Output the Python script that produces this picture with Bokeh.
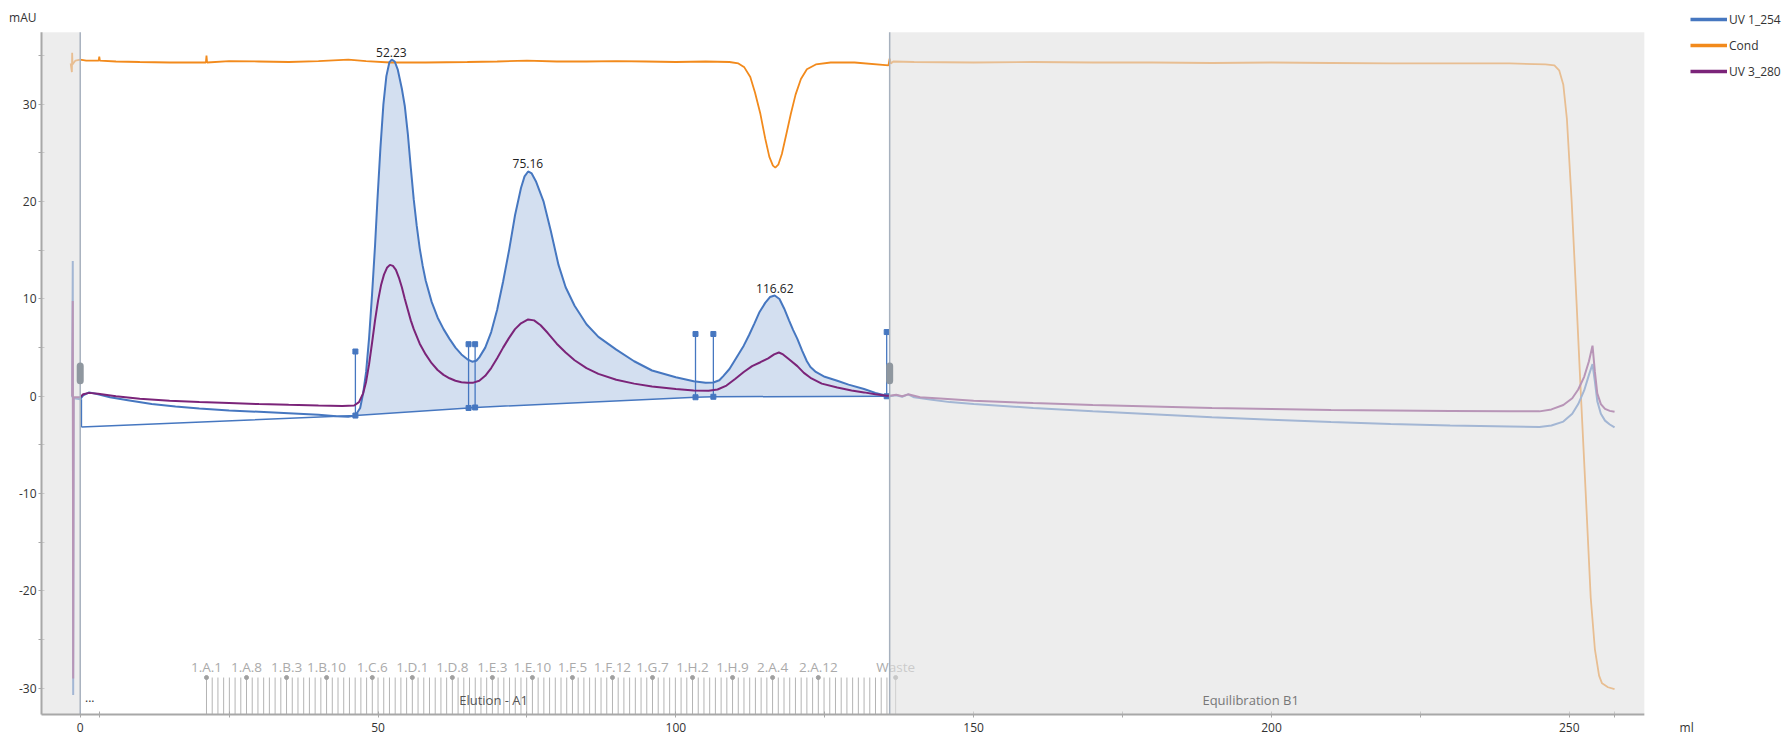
from bokeh.plotting import figure
from bokeh.models import (Range1d, FixedTicker, BoxAnnotation, Label,
                          Legend, LegendItem)
from bokeh.core.properties import value
from bokeh.embed import file_html
from bokeh.resources import INLINE

FONT = "Open Sans"

# ---------------- data (ml, mAU) ----------------
uv254_ml = [-1.35, -1.25, -1.18, -1.1, -0.5,
            0.0, 0.5, 1.5, 3, 5, 8, 12, 16, 20, 25, 30, 35, 40, 43, 45, 46.2,
            47, 47.5, 48, 48.5, 49, 49.5, 49.9, 50.4, 50.9, 51.4, 51.9, 52.3, 52.8, 53.3,
            54.0, 54.5, 55, 55.5, 56, 56.5, 57, 57.5, 58, 59, 60, 61, 62, 63, 64, 65,
            65.8, 66.5, 67, 68, 69, 70, 71, 72, 73, 74, 74.6, 75.2, 75.8, 76.5, 77.8,
            79, 80.3, 81.5, 83, 85, 87, 90, 93, 96, 100, 103, 105, 106.3, 107.3, 108,
            109, 109.7, 110.5, 111.4, 112.3, 113.2, 114, 115, 115.8, 116.6, 117.4,
            118.2, 119, 119.7, 120.4, 121.2, 122, 122.6, 123.5, 125, 127.1, 129,
            131.6, 133.5, 135.4,
            135.9, 137, 138, 139, 140, 143, 146, 150, 160, 170, 180, 190, 200, 210,
            220, 230, 240, 245, 247, 249, 250.5, 251.5, 252.5, 253.3, 253.9, 254.3,
            254.7, 255.3, 256, 256.8, 257.6]
uv254_mau = [-0.1, 13.9, -30.7, -0.2, -0.25,
             -0.3, 0.1, 0.4, 0.2, -0.1, -0.4, -0.8, -1.05, -1.25, -1.45, -1.6, -1.75,
             -1.9, -2.05, -2.1, -1.98,
             -1.2, 0.3, 2.5, 6.0, 10.5, 15.5, 20.2, 25.5, 30.0, 32.9, 34.3, 34.6, 34.4,
             33.6, 31.6, 29.8, 27.0, 23.5, 20.2, 17.5, 15.2, 13.4, 11.9, 9.7, 8.1, 6.9,
             5.9, 5.0, 4.3, 3.8, 3.55, 3.65, 4.0, 5.0, 6.6, 8.9, 11.8, 15.0, 18.6, 21.4,
             22.6, 23.1, 22.9, 22.1, 20.0, 17.0, 13.5, 11.2, 9.3, 7.4, 6.1, 4.8, 3.6,
             2.65, 1.95, 1.55, 1.38, 1.42, 1.65, 2.1, 2.8, 3.5, 4.3, 5.2, 6.3, 7.5, 8.6,
             9.6, 10.2, 10.35, 10.0, 9.0, 7.8, 6.8, 5.9, 4.7, 3.6, 3.0, 2.5, 2.0, 1.6,
             1.2, 0.75, 0.35, 0.05,
             0.0, 0.1, -0.05, 0.2, -0.1, -0.35, -0.6, -0.8, -1.2, -1.55, -1.85, -2.15,
             -2.4, -2.65, -2.85, -3.0, -3.1, -3.15, -3.0, -2.6, -1.8, -0.8, 0.6, 2.2,
             3.3, 1.5, -0.5, -1.8, -2.5, -2.9, -3.2]

uv280_ml = [-1.35, -1.25, -1.18, -1.1, -0.5,
            0.0, 0.5, 1.5, 3, 6, 10, 15, 20, 25, 30, 35, 40, 44, 46, 46.8, 47.5, 48,
            48.5, 49, 49.5, 50, 50.5, 51, 51.5, 52.0, 52.5, 53, 53.5, 54, 54.5, 55,
            55.5, 56, 57, 58, 59, 60, 61, 62, 63, 64, 65, 66, 67, 68, 69, 70, 71, 72,
            73, 74, 75.2, 76.2, 77.3, 78.5, 80, 81.5, 83, 85, 87, 90, 93, 96, 100, 103,
            105.5, 107, 108.5, 110, 111.4, 112.8, 114.2, 115.5, 116.5, 117.3, 118, 119,
            120.4, 121.5, 122.6, 124.5, 127.1, 129.5, 131.6, 133.5, 135.4,
            135.9, 137, 138, 139, 141, 145, 150, 160, 170, 180, 190, 200, 210, 220,
            230, 240, 245, 247, 249, 250.5, 251.5, 252.5, 253.3, 253.9, 254.3, 254.7,
            255.3, 256, 256.8, 257.6]
uv280_mau = [0.0, 9.8, -29.0, -0.1, -0.1,
             -0.1, 0.2, 0.35, 0.25, 0.0, -0.25, -0.45, -0.6, -0.7, -0.8, -0.88, -0.95,
             -1.0, -0.95, -0.6, 0.3, 1.5, 3.3, 5.5, 7.8, 9.8, 11.4, 12.5, 13.2, 13.5,
             13.4, 13.0, 12.2, 11.2, 10.0, 8.9, 7.8, 6.9, 5.4, 4.3, 3.4, 2.7, 2.2, 1.85,
             1.6, 1.45, 1.4, 1.4, 1.6, 2.1, 2.9, 3.9, 5.0, 6.0, 6.9, 7.5, 7.9, 7.8, 7.3,
             6.5, 5.4, 4.5, 3.7, 2.9, 2.3, 1.7, 1.3, 1.0, 0.75, 0.6, 0.57, 0.7, 1.1,
             1.8, 2.5, 3.1, 3.5, 3.9, 4.3, 4.5, 4.3, 3.8, 3.1, 2.4, 1.9, 1.3, 0.9, 0.6,
             0.4, 0.2, 0.05,
             0.05, 0.15, 0.0, 0.2, -0.1, -0.25, -0.45, -0.7, -0.9, -1.05, -1.2, -1.3,
             -1.4, -1.45, -1.5, -1.55, -1.55, -1.35, -0.9, -0.2, 0.7, 2.0, 3.6, 5.2,
             2.5, 0.3, -0.8, -1.3, -1.5, -1.6]

cond_ml = [-1.6, -1.4, -1.35, -1.3, -0.8,
           0, 1, 3.1, 3.2, 3.3, 6, 10, 15, 21.1, 21.2, 21.3, 25, 30, 35, 40, 45, 48,
           52, 58, 65, 70, 75, 80, 85, 90, 95, 100, 105, 109, 110.5, 111.5, 112.5,
           113.3, 114.2, 115, 115.7, 116.3, 116.7, 117.2, 117.8, 118.5, 119.3, 120.1,
           121, 122, 123.5, 126, 130, 135.7, 135.9, 136.1,
           136.5, 140, 150, 160, 170, 180, 190, 200, 210, 220, 230, 240, 246, 247.5,
           248.3, 249, 249.6, 250.4, 251.2, 252, 252.8, 253.6, 254.3, 255, 255.5,
           256.5, 257.6]
cond_mau = [34.2, 33.3, 35.3, 34.1, 34.5,
            34.6, 34.5, 34.5, 34.9, 34.5, 34.4, 34.35, 34.3, 34.3, 35.0, 34.3, 34.45,
            34.4, 34.35, 34.45, 34.6, 34.45, 34.3, 34.3, 34.35, 34.4, 34.5, 34.4, 34.4,
            34.45, 34.4, 34.35, 34.4, 34.35, 34.2, 33.8, 32.8, 31.2, 29.0, 26.5, 24.6,
            23.7, 23.5, 23.8, 24.9, 26.8, 29.0, 31.0, 32.6, 33.6, 34.1, 34.3, 34.3,
            34.0, 34.7, 34.2,
            34.4, 34.35, 34.3, 34.35, 34.3, 34.3, 34.25, 34.3, 34.25, 34.2, 34.2, 34.2,
            34.1, 34.0, 33.5, 32.0, 28.5, 20.0, 9.9, -0.5, -10.5, -20.7, -26.0, -28.7,
            -29.5, -29.9, -30.1]

# integration baseline points (peak boundaries)
base_ml = [0.2, 46.2, 65.2, 66.3, 103.3, 106.3, 135.4]
base_mau = [-3.15, -1.98, -1.2, -1.15, -0.1, -0.05, 0.0]
# peak drop-line markers
mark_ml = [46.2, 65.2, 66.3, 103.3, 106.3, 135.4]
mark_top = [4.6, 5.35, 5.35, 6.4, 6.4, 6.6]
mark_bot = [-1.98, -1.2, -1.15, -0.1, -0.05, 0.0]
# peaks
peak_ml = [52.23, 75.16, 116.62]
peak_mau = [34.6, 23.1, 10.35]

# fractions
frac_start = 21.2
frac_volume = 0.96
frac_count = 120
frac_labels = ["1.A.1", "1.A.8", "1.B.3", "1.B.10", "1.C.6", "1.D.1", "1.D.8",
               "1.E.3", "1.E.10", "1.F.5", "1.F.12", "1.G.7", "1.H.2", "1.H.9",
               "2.A.4", "2.A.12"]
waste_ml = 136.9
phase_boundaries = [0.0, 135.9]

# axes: labelled ticks, tick marks, unit labels
x_label_ticks = [0, 50, 100, 150, 200, 250]
x_mark_ticks = [0, 3.2, 25, 50, 75, 100, 125, 150, 175, 200, 225, 250, 257.6]
x_unit_pos, x_unit = 269.7, "ml"
y_label_ticks = [-30, -20, -10, 0, 10, 20, 30]
y_mark_ticks = [-30, -25, -20, -15, -10, -5, 0, 5, 10, 15, 20, 25, 30, 35]
y_unit_pos, y_unit = 38.9, "mAU"

BLUE = "#4677c0"
ORANGE = "#f28a1c"
PURPLE = "#7b2479"
AXIS = "#a8a8a8"

# data window of the chart area and the (larger) drawing frame
X0, XE = -6.5, 262.6
Y0, YE = -32.7, 37.4
XF, YF = 286.3, 40.67

p = figure(width=1785, height=738, x_range=Range1d(X0, XF), y_range=Range1d(Y0, YF),
           output_backend="svg", toolbar_location=None,
           min_border_left=41, min_border_right=0, min_border_top=0,
           min_border_bottom=21)
p.outline_line_color = None
p.xgrid.visible = False
p.ygrid.visible = False

for ax in (p.xaxis, p.yaxis):
    ax.axis_line_color = None
    ax.major_tick_line_color = None
    ax.major_tick_in = 3
    ax.major_tick_out = 3
    ax.minor_tick_line_color = AXIS
    ax.minor_tick_in = 3
    ax.minor_tick_out = 3
    ax.major_label_text_font = FONT
    ax.major_label_text_font_size = "12px"
    ax.major_label_text_color = "#333333"
p.xaxis.major_label_standoff = 1
p.yaxis.major_label_standoff = 2

p.xaxis.ticker = FixedTicker(ticks=x_label_ticks + [x_unit_pos], minor_ticks=x_mark_ticks)
xo = {t: str(t) for t in x_label_ticks}
xo[x_unit_pos] = x_unit
p.xaxis.major_label_overrides = xo
p.yaxis.ticker = FixedTicker(ticks=y_label_ticks + [y_unit_pos], minor_ticks=y_mark_ticks)
yo = {t: str(t) for t in y_label_ticks}
yo[y_unit_pos] = y_unit
p.yaxis.major_label_overrides = yo

# filled peak area between curve and baseline
fill_x = [m for m in uv254_ml if base_ml[1] <= m <= base_ml[-1]]
fill_y = [v for m, v in zip(uv254_ml, uv254_mau) if base_ml[1] <= m <= base_ml[-1]]
fill_x += list(reversed(base_ml[1:]))
fill_y += list(reversed(base_mau[1:]))
p.patch(fill_x, fill_y, fill_color="#c8d7ec", fill_alpha=0.8, line_color=None)

# baseline + drop lines
p.line(base_ml, base_mau, line_color=BLUE, line_width=1.5)
p.segment(x0=[base_ml[0]], y0=[uv254_mau[5]], x1=[base_ml[0]], y1=[base_mau[0]],
          line_color=BLUE, line_width=1.5)
p.segment(x0=mark_ml, y0=mark_bot, x1=mark_ml, y1=mark_top, line_color=BLUE, line_width=1.3)
p.scatter(mark_ml, mark_top, marker="square", size=5, color=BLUE)
p.scatter(mark_ml, mark_bot, marker="square", size=5, color=BLUE)

# curves
p.line(cond_ml, cond_mau, line_color=ORANGE, line_width=1.8)
p.line(uv254_ml, uv254_mau, line_color=BLUE, line_width=2)
p.line(uv280_ml, uv280_mau, line_color=PURPLE, line_width=2)

# peak labels
p.text(x=peak_ml, y=peak_mau, text=[f"{m:.2f}" for m in peak_ml], text_align="center",
       text_baseline="bottom", y_offset=-3, text_font=value(FONT),
       text_font_size="12px", text_color="#222222")

# fractions
frac_x = [frac_start + i * frac_volume for i in range(frac_count)]
rows = "ABCDEFGH"

def frac_index(name):
    pl, r, c = name.split(".")
    return (int(pl) - 1) * 96 + rows.index(r) * 12 + int(c) - 1

lab_x = [frac_start + frac_index(n) * frac_volume for n in frac_labels] + [waste_ml]
lab_t = frac_labels + ["Waste"]
tick_top = -28.9
p.segment(x0=frac_x + [waste_ml], y0=[Y0] * (frac_count + 1), x1=frac_x + [waste_ml],
          y1=[tick_top] * (frac_count + 1), line_color="#b4b4b4", line_width=1)
p.scatter(lab_x, [tick_top] * len(lab_x), marker="circle", size=4, color="#a0a0a0")
p.text(x=lab_x, y=[tick_top] * len(lab_x), text=lab_t, text_align="center",
       text_baseline="middle", y_offset=-11, text_font=value(FONT),
       text_font_size="13.5px", text_color="#aaaaaa")

# shaded (inactive) regions drawn as overlays
p.add_layout(BoxAnnotation(right=phase_boundaries[0], top=YE, fill_color="#e1e1e1",
                           fill_alpha=0.6, line_color=None))
p.add_layout(BoxAnnotation(left=phase_boundaries[1], right=XE, top=YE,
                           fill_color="#e1e1e1", fill_alpha=0.6, line_color=None))

bnd = p.segment(x0=phase_boundaries, y0=[Y0, Y0], x1=phase_boundaries, y1=[YE, YE],
                line_color="#a7b1be", line_width=1.5)
bnd.level = "overlay"
cap = p.segment(x0=phase_boundaries, y0=[1.6, 1.6], x1=phase_boundaries, y1=[3.1, 3.1],
                line_color="#8f979f", line_width=7, line_cap="round")
cap.level = "overlay"

# axis lines (limited to the chart window)
axl = p.segment(x0=[X0, X0], y0=[Y0, Y0], x1=[XE, X0], y1=[Y0, YE],
                line_color=AXIS, line_width=2)
axl.level = "overlay"

def lab(x, y, t, color="#333333", align="center", size="12px"):
    p.add_layout(Label(x=x, y=y, text=t, text_align=align, text_baseline="middle",
                       text_font=FONT, text_font_size=size, text_color=color))

lab(69.4, -31.2, "Elution - A1", "#555555", size="13px")
lab(196.5, -31.2, "Equilibration B1", "#777777", size="13px")
lab(1.6, -31.0, "...", "#333333")

# legend (hidden thick copies of the curves act as legend glyphs)
r1 = p.line(uv254_ml, uv254_mau, line_color=BLUE, line_width=3.5, visible=False)
r2 = p.line(cond_ml, cond_mau, line_color=ORANGE, line_width=3.5, visible=False)
r3 = p.line(uv280_ml, uv280_mau, line_color=PURPLE, line_width=3.5, visible=False)
legend = Legend(items=[LegendItem(label="UV 1_254", renderers=[r1]),
                       LegendItem(label="Cond", renderers=[r2]),
                       LegendItem(label="UV 3_280", renderers=[r3])],
                location=(1649, 634), glyph_width=37, glyph_height=18,
                label_height=18, spacing=8, padding=0, margin=0, label_standoff=2,
                border_line_color=None, background_fill_alpha=0,
                inactive_fill_alpha=0,
                label_text_font=FONT, label_text_font_size="12px",
                label_text_color="#333333")
p.add_layout(legend)

open("out.html", "w").write(file_html(p, INLINE))
